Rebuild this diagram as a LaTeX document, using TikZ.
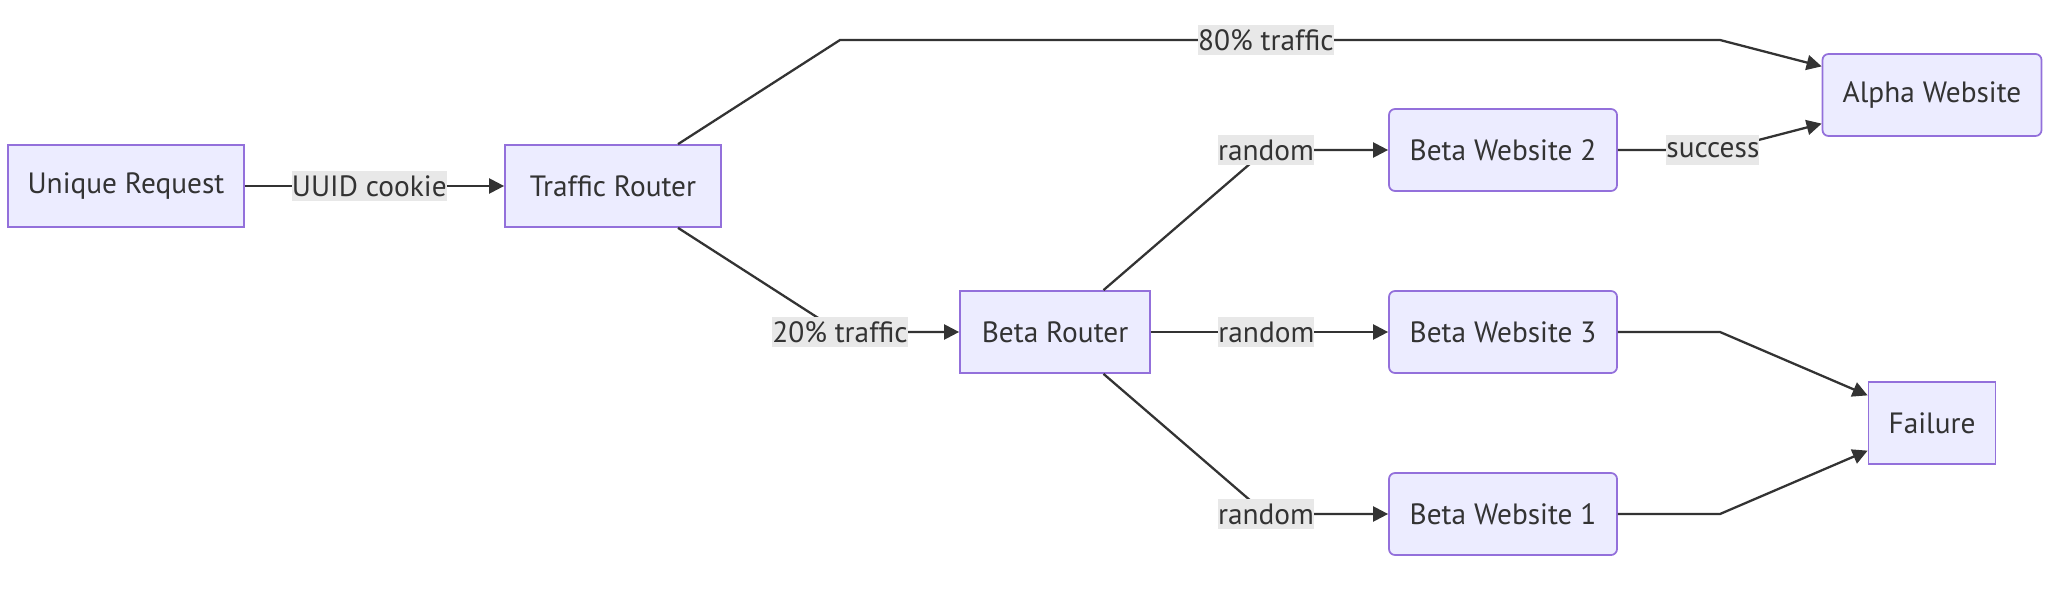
\documentclass[tikz,border=0pt]{standalone}
\usepackage{fontspec}
\setmainfont{PT Sans}
\usepackage{tikz}
\usetikzlibrary{positioning,arrows.meta}
\definecolor{boxfill}{HTML}{ECECFF}
\definecolor{boxline}{HTML}{9370DB}
\definecolor{ink}{HTML}{333333}
\definecolor{lblbg}{HTML}{E8E8E8}
\tikzset{
  box/.style={draw=boxline,line width=1pt,fill=boxfill,text=ink,
              minimum height=1.64cm,inner sep=0pt,align=center,
              font=\fontsize{16.7}{19}\selectfont},
  rbox/.style={box,rounded corners=0.12cm},
  lbl/.style={fill=lblbg,text=ink,inner xsep=0pt,inner ysep=0pt,
              minimum height=0.6cm,font=\fontsize{16.7}{19}\selectfont},
  flow/.style={-{Triangle[length=0.3cm,width=0.3cm]},line width=1.3pt,ink},
}
\begin{document}
\begin{tikzpicture}
  \useasboundingbox (0,0) rectangle (41.36,-12.24);
  \node[box,minimum width=4.72cm]  (ur)    at (2.52,-3.72)  {Unique Request};
  \node[box,minimum width=4.32cm]  (tr)    at (12.26,-3.72) {Traffic Router};
  \node[box,minimum width=3.80cm]  (br)    at (21.10,-6.64) {Beta Router};
  \node[rbox,minimum width=4.56cm] (bw2)   at (30.06,-3.00) {Beta Website 2};
  \node[rbox,minimum width=4.56cm] (bw3)   at (30.06,-6.64) {Beta Website 3};
  \node[rbox,minimum width=4.56cm] (bw1)   at (30.06,-10.28) {Beta Website 1};
  \node[rbox,minimum width=4.38cm] (alpha) at (38.64,-1.90) {Alpha Website};
  \node[box,minimum width=2.54cm]  (fail)  at (38.64,-8.46) {Failure};
  \coordinate (c1) at (16.80,-0.80);
  \coordinate (c2) at (34.40,-0.80);
  \coordinate (c3) at (16.80,-6.64);
  \coordinate (c4) at (25.32,-3.00);
  \coordinate (c5) at (25.32,-10.28);
  \coordinate (c6) at (34.40,-3.00);
  \coordinate (c7) at (34.40,-6.64);
  \coordinate (c8) at (34.40,-10.28);
  \draw[flow] (ur) -- node[lbl,pos=0.48]{UUID cookie} (tr);
  \draw[flow] (tr) -- (c1) -- node[lbl,pos=0.484]{80\% traffic} (c2) -- (alpha);
  \draw[flow] (tr) -- (c3) node[lbl]{20\% traffic} -- (br);
  \draw[flow] (br) -- (c4) node[lbl]{random} -- (bw2);
  \draw[flow] (br) -- node[lbl,pos=0.487]{random} (bw3);
  \draw[flow] (br) -- (c5) node[lbl]{random} -- (bw1);
  \draw[flow] (bw2) -- node[lbl,pos=0.93]{success} (c6) -- (alpha);
  \draw[flow] (bw3) -- (c7) -- (fail);
  \draw[flow] (bw1) -- (c8) -- (fail);
\end{tikzpicture}
\end{document}
